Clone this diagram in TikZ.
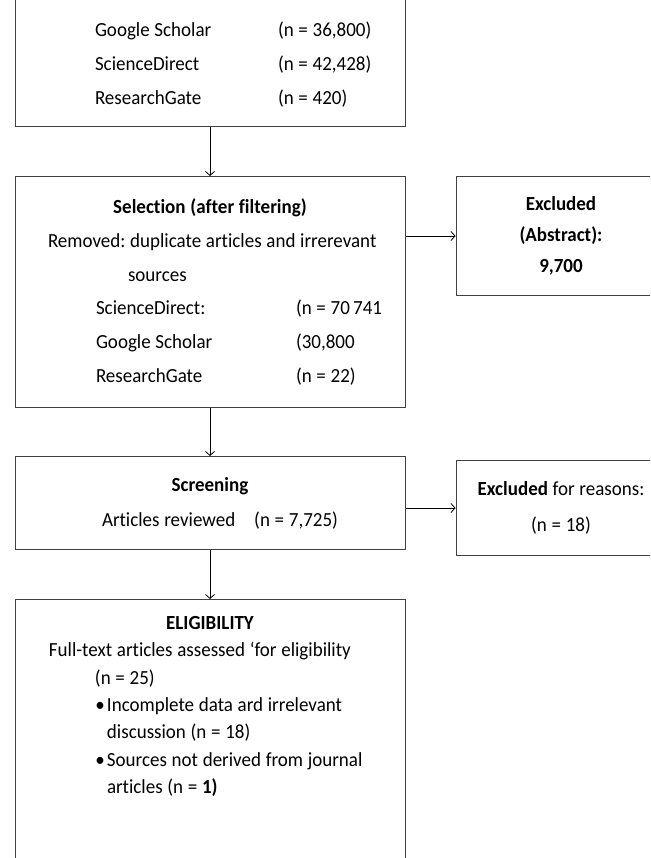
\documentclass[tikz,border=0pt]{standalone}
\usepackage{fontspec}
\setmainfont{Carlito}[FakeStretch=0.95, WordSpace=1.1, Ligatures={NoCommon}]
\usetikzlibrary{positioning, arrows.meta}
\tikzset{every picture/.style={line width=0.8pt},
  box/.style={draw=black!75, line width=1pt, inner xsep=15pt, minimum width=390pt, text width=360pt, align=flush left, execute at begin node={\spaceskip=0pt\xspaceskip=0pt}, font=\fontsize{20}{33.7}\selectfont},
  side/.style={draw=black!75, line width=1pt, minimum width=210pt, align=center, font=\fontsize{20}{31}\selectfont},
  >={Straight Barb[length=4pt,width=9pt]}}

\begin{document}
\frenchspacing
\begin{tikzpicture}
\useasboundingbox (0,0) rectangle (650pt,-858pt);
\clip (0,0) rectangle (650pt,-858pt);
		\node[box, minimum height=132pt, anchor=south, font=\fontsize{20}{34}\selectfont] (search) at (210pt,-127pt) {%
			\rule{0pt}{22pt}\hspace*{65pt}\makebox[183pt][l]{Google Scholar}(n = 36,800)\\
			\hspace*{65pt}\makebox[183pt][l]{ScienceDirect}(n = 42,428)\\
			\hspace*{65pt}\makebox[183pt][l]{ResearchGate}(n = 420)};
		\node[box, minimum height=231pt, below=49pt of search] (select) {%
			\makebox[360pt]{\bfseries Selection (after filtering)}\\
			\hspace*{18pt}Removed: duplicate articles and irrerevant\\
			\hspace*{98pt}sources\\
			\hspace*{66pt}\makebox[200pt][l]{ScienceDirect:}(n = 70\,741\\
			\hspace*{66pt}\makebox[200pt][l]{Google Scholar}(30,800\\
			\hspace*{66pt}\makebox[200pt][l]{ResearchGate}(n = 22)};
		\node[side, minimum height=119pt, right=50pt of select.north east, anchor=north west, font=\fontsize{20}{31}\selectfont\bfseries] (excl1) {Excluded\\(Abstract):\\9,700};
		\node[box, minimum height=93pt, below=48pt of select, font=\fontsize{20}{35}\selectfont] (screen) {%
			\makebox[360pt]{\bfseries Screening}\\
			\hspace*{72pt}Articles reviewed\hspace{19pt}(n = 7,725)};
		\node[side, minimum height=95pt, right=50pt of screen, yshift=-5pt, font=\fontsize{20}{36}\selectfont] (excl2) {\textbf{Excluded} for reasons:\\(n = 18)};
		\node[box, below=49pt of screen, inner ysep=17pt, font=\fontsize{20}{27.3}\selectfont] (elig) {%
			\makebox[360pt]{\bfseries ELIGIBILITY}\\
			\hspace*{19pt}Full-text articles assessed ‘for eligibility\\
			\hspace*{65pt}(n = 25)\\
			\hspace*{63pt}\makebox[14pt]{•}Incomplete data ard irrelevant\\
			\hspace*{77pt}discussion (n = 18)\\
			\hspace*{63pt}\makebox[14pt]{•}Sources not derived from journal\\
			\hspace*{77pt}articles (n = \textbf{1)}\rule[-90pt]{0pt}{0pt}};

		\draw[->] (search) -- (select);
		\draw[->] (select) -- (screen);
		\draw[->] (screen) -- (elig);
		\draw[->] (excl1.west -| select.east) -- (excl1.west);
		\draw[->] (excl2.west -| screen.east) -- (excl2.west);
\end{tikzpicture}
\end{document}
